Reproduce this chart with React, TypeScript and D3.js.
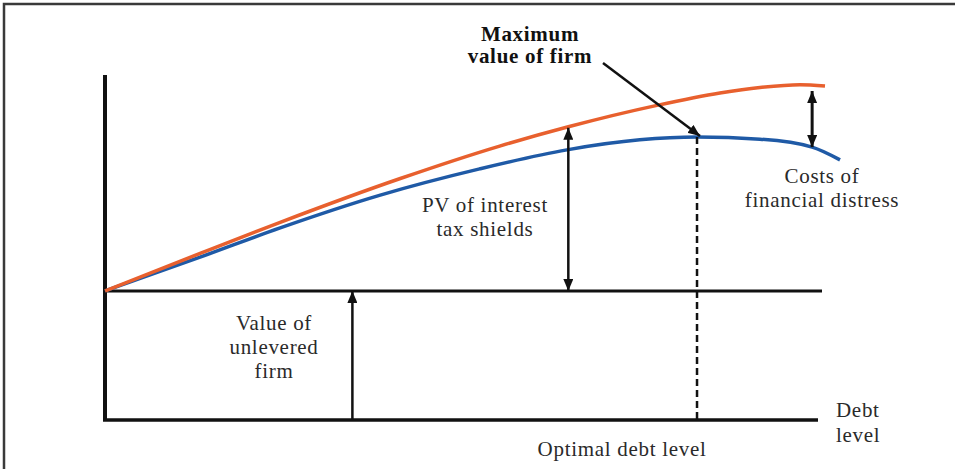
import * as React from 'react';
import {useEffect, useRef} from 'react';
import * as d3 from 'd3';

const width = 955;
const height = 469;

// debt level (0..100) against firm value (0..100)
const debt = [0, 13.3, 24.5, 41.3, 55.2, 64.8, 77.2, 86.0, 91.6, 97.2, 100.7];
const leveredValue = [37.4, 48.3, 57.3, 70.0, 79.4, 85.0, 91.2, 94.8, 96.4, 97.2, 96.8];

const debtActual = [0, 13.3, 24.5, 38.5, 52.4, 64.6, 74.8, 82.8, 91.6, 98.9, 102.8];
const actualValue = [37.4, 47.2, 55.7, 65.2, 72.8, 78.3, 81.2, 82.0, 81.4, 79.1, 75.4];

const unleveredValue = 37.4;
const optimalDebt = 82.8;
const taxShieldDebt = 64.8;
const unleveredArrowDebt = 34.6;
const distressDebt = 98.9;

const labelMax = ['Maximum', 'value of firm'];
const labelPV = ['PV of interest', 'tax shields'];
const labelVU = ['Value of', 'unlevered', 'firm'];
const labelCosts = ['Costs of', 'financial distress'];
const labelAxis = ['Debt', 'level'];
const labelOptimal = 'Optimal debt level';

export default function App() {
  const ref = useRef<SVGSVGElement>(null);

  useEffect(() => {
    const svg = d3.select(ref.current!);
    svg.selectAll('*').remove();

    const x = d3.scaleLinear().domain([0, 100]).range([105, 820]);
    const y = d3.scaleLinear().domain([0, 100]).range([420, 75]);

    const defs = svg.append('defs');
    defs.append('marker')
      .attr('id', 'head')
      .attr('viewBox', '0 0 12 10')
      .attr('refX', 12).attr('refY', 5)
      .attr('markerWidth', 12).attr('markerHeight', 10)
      .attr('markerUnits', 'userSpaceOnUse')
      .attr('orient', 'auto-start-reverse')
      .append('path')
      .attr('d', 'M0,0 L12,5 L0,10 Z')
      .attr('fill', '#111');

    // frame
    svg.append('rect')
      .attr('x', 4).attr('y', 4)
      .attr('width', width + 10).attr('height', height + 10)
      .attr('fill', 'none')
      .attr('stroke', '#3a3a3a')
      .attr('stroke-width', 2.5);

    // axes
    svg.append('line')
      .attr('x1', x(0)).attr('x2', x(0))
      .attr('y1', y(100)).attr('y2', y(0))
      .attr('stroke', '#111').attr('stroke-width', 4);
    svg.append('line')
      .attr('x1', x(0) - 2).attr('x2', x(100) - 2)
      .attr('y1', y(0)).attr('y2', y(0))
      .attr('stroke', '#111').attr('stroke-width', 3.5);

    // unlevered value
    svg.append('line')
      .attr('x1', x(0)).attr('x2', x(100) + 2)
      .attr('y1', y(unleveredValue)).attr('y2', y(unleveredValue))
      .attr('stroke', '#111').attr('stroke-width', 3);

    const line = d3.line<[number, number]>()
      .x(d => x(d[0]))
      .y(d => y(d[1]))
      .curve(d3.curveMonotoneX);

    svg.append('path')
      .attr('d', line(debtActual.map((d, i) => [d, actualValue[i]]))!)
      .attr('fill', 'none')
      .attr('stroke', '#1f5aa6')
      .attr('stroke-width', 3.5);

    svg.append('path')
      .attr('d', line(debt.map((d, i) => [d, leveredValue[i]]))!)
      .attr('fill', 'none')
      .attr('stroke', '#e8602e')
      .attr('stroke-width', 3.5);

    // optimal debt level
    const peak = actualValue[debtActual.indexOf(optimalDebt)];
    svg.append('line')
      .attr('x1', x(optimalDebt)).attr('x2', x(optimalDebt))
      .attr('y1', y(peak)).attr('y2', y(0))
      .attr('stroke', '#111').attr('stroke-width', 2.5)
      .attr('stroke-dasharray', '7,4');

    const arrow = (x1: number, y1: number, x2: number, y2: number, both: boolean, w = 2.5) => {
      const l = svg.append('line')
        .attr('x1', x1).attr('y1', y1).attr('x2', x2).attr('y2', y2)
        .attr('stroke', '#111').attr('stroke-width', w)
        .attr('marker-end', 'url(#head)');
      if (both) l.attr('marker-start', 'url(#head)');
    };

    arrow(x(taxShieldDebt), y(unleveredValue), x(taxShieldDebt), y(85.0) + 1, true);
    arrow(x(unleveredArrowDebt), y(0), x(unleveredArrowDebt), y(unleveredValue), false);
    arrow(x(distressDebt), y(97.1) + 6, x(distressDebt), y(79.1), true, 3);
    arrow(603, 63, x(optimalDebt) + 3, y(peak) - 1, false);

    const font = '"Liberation Serif", "Times New Roman", serif';
    const text = (lines: string[], cx: number, y0: number, dy: number, anchor = 'middle', bold = false) => {
      const t = svg.append('g')
        .attr('font-family', font)
        .attr('font-size', 21)
        .attr('letter-spacing', 0.7)
        .attr('font-weight', bold ? 'bold' : 'normal')
        .attr('fill', bold ? '#111' : '#2a2a2a')
        .attr('text-anchor', anchor);
      lines.forEach((s, i) => {
        t.append('text').attr('x', cx).attr('y', y0 + i * dy).text(s);
      });
    };

    text(labelMax, 530, 41, 22, 'middle', true);
    text(labelPV, 485, 212, 24);
    text(labelVU, 274, 330, 24);
    text(labelCosts, 822, 183, 24);
    text(labelAxis, 836, 417, 25, 'start');
    text([labelOptimal], x(optimalDebt) - 75, 456, 0);
  }, []);

  return (
    <svg ref={ref} width={width} height={height}
      style={{position: 'absolute', left: 0, top: 0, background: '#fff'}}/>
  );
}
